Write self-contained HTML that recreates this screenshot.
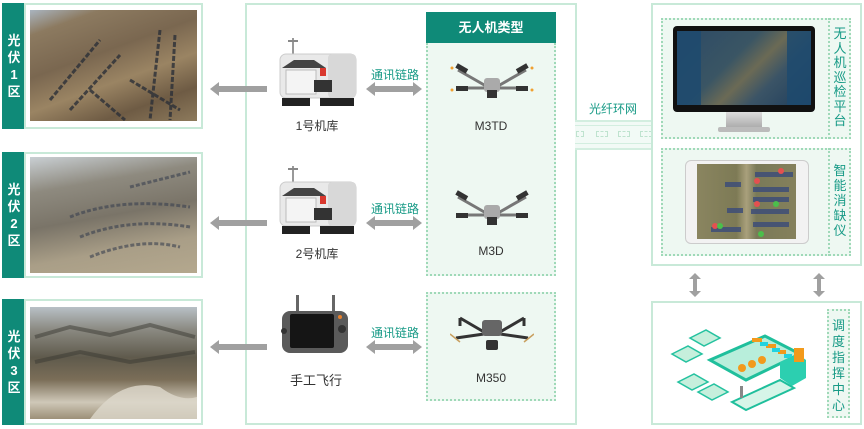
<!DOCTYPE html>
<html><head><meta charset="utf-8"><style>
*{margin:0;padding:0;box-sizing:border-box}
body{width:864px;height:429px;background:#fff;position:relative;overflow:hidden;font-family:"Liberation Sans","Noto Sans CJK SC",sans-serif}
.a{position:absolute}
.lab{background:#0f8a78;color:#fff;font-weight:bold;font-size:13px;line-height:17px;text-align:center;display:flex;align-items:center;justify-content:center}
.box{border:2px solid #c8e9d8}
.dot{border:2px dotted #9fd9b8;background:#eef8f2}
.vt{color:#179a86;font-size:13px;line-height:14.5px;text-align:center}
.t{font-size:12px;color:#333;text-align:center}
.g{color:#179a86;font-size:12px}
</style></head><body>

<!-- regions -->
<div class="a lab" style="left:2px;top:3px;width:24px;height:126px">光<br>伏<br>1<br>区</div>
<div class="a box" style="left:24px;top:3px;width:179px;height:126px"></div>
<div class="a" style="left:30px;top:10px;width:167px;height:111px;background:linear-gradient(160deg,#a9b4bf 0%,#8c7a60 15%,#7a6750 40%,#9a8463 60%,#6e5b44 80%,#8d7a5c 100%)"></div>
<svg class="a" style="left:30px;top:10px" width="167" height="111"><g stroke="#2c3038" stroke-width="3" stroke-dasharray="5 2" fill="none" opacity=".8"><path d="M20 90 L70 30"/><path d="M40 100 L90 45"/><path d="M130 20 L120 110"/><path d="M145 25 L140 110"/><path d="M100 70 L150 100"/><path d="M60 80 L95 110"/></g></svg>

<div class="a lab" style="left:2px;top:152px;width:24px;height:126px">光<br>伏<br>2<br>区</div>
<div class="a box" style="left:24px;top:152px;width:179px;height:126px"></div>
<div class="a" style="left:30px;top:157px;width:167px;height:116px;background:linear-gradient(170deg,#c9cfd3 0%,#8e8a7f 25%,#7a7468 50%,#a99e87 75%,#b4a88e 100%)"></div>
<svg class="a" style="left:30px;top:157px" width="167" height="116"><g stroke="#3a4150" stroke-width="3" stroke-dasharray="4 2" fill="none" opacity=".6"><path d="M40 60 Q90 40 160 50"/><path d="M50 80 Q100 60 160 70"/><path d="M60 100 Q110 80 150 90"/><path d="M100 30 L160 15"/></g></svg>

<div class="a lab" style="left:2px;top:299px;width:24px;height:126px">光<br>伏<br>3<br>区</div>
<div class="a box" style="left:24px;top:299px;width:179px;height:126px"></div>
<div class="a" style="left:30px;top:307px;width:167px;height:112px;background:linear-gradient(180deg,#b8c0c6 0%,#8b8a82 20%,#5f5a4c 45%,#7b6e58 65%,#cfc8b8 85%,#9c9078 100%)"></div>
<svg class="a" style="left:30px;top:307px" width="167" height="112"><g stroke="#3b3a33" stroke-width="4" fill="none" opacity=".5"><path d="M5 30 L40 20 L80 28 L120 18 L165 30"/><path d="M5 55 L50 45 L100 55 L165 45"/></g><path d="M60 112 Q90 70 130 80 Q150 95 167 90 L167 112Z" fill="#ddd8cc" opacity=".8"/></svg>

<!-- middle box -->
<div class="a box" style="left:245px;top:3px;width:332px;height:422px"></div>

<!-- left arrows -->
<svg class="a" style="left:205px;top:80px" width="65" height="280"><g fill="#a0a0a0">
<path d="M5 9 L14 2 L14 6 L62 6 L62 12 L14 12 L14 16Z"/>
<path d="M5 143 L14 136 L14 140 L62 140 L62 146 L14 146 L14 150Z"/>
<path d="M5 267 L14 260 L14 264 L62 264 L62 270 L14 270 L14 274Z"/></g></svg>
<!-- double arrows -->
<svg class="a" style="left:363px;top:80px" width="62" height="280"><g fill="#a0a0a0">
<path d="M3 9 L12 2 L12 6 L50 6 L50 2 L59 9 L50 16 L50 12 L12 12 L12 16Z"/>
<path d="M3 143 L12 136 L12 140 L50 140 L50 136 L59 143 L50 150 L50 146 L12 146 L12 150Z"/>
<path d="M3 267 L12 260 L12 264 L50 264 L50 260 L59 267 L50 274 L50 270 L12 270 L12 274Z"/></g></svg>
<div class="a g" style="left:371px;top:66px">通讯链路</div>
<div class="a g" style="left:371px;top:200px">通讯链路</div>
<div class="a g" style="left:371px;top:324px">通讯链路</div>

<!-- hangars -->
<svg class="a" style="left:276px;top:38px" width="84" height="72"><rect x="16" y="0" width="2" height="16" fill="#999"/><rect x="12" y="2" width="10" height="2" fill="#888"/>
<rect x="4" y="16" width="76" height="44" rx="6" fill="#e9e9e9" stroke="#ccc"/><rect x="52" y="16" width="28" height="44" rx="4" fill="#d8d8d8"/>
<path d="M6 30 L18 22 L38 22 L50 30Z" fill="#444"/><rect x="10" y="32" width="30" height="24" fill="#f4f4f4" stroke="#bbb"/><rect x="38" y="42" width="18" height="12" fill="#333"/><rect x="44" y="30" width="6" height="8" fill="#d9382e"/>
<rect x="6" y="60" width="28" height="8" fill="#222"/><rect x="44" y="60" width="34" height="8" fill="#222"/></svg>
<div class="a t" style="left:275px;top:117px;width:84px">1号机库</div>
<svg class="a" style="left:276px;top:166px" width="84" height="72"><rect x="16" y="0" width="2" height="16" fill="#999"/><rect x="12" y="2" width="10" height="2" fill="#888"/>
<rect x="4" y="16" width="76" height="44" rx="6" fill="#e9e9e9" stroke="#ccc"/><rect x="52" y="16" width="28" height="44" rx="4" fill="#d8d8d8"/>
<path d="M6 30 L18 22 L38 22 L50 30Z" fill="#444"/><rect x="10" y="32" width="30" height="24" fill="#f4f4f4" stroke="#bbb"/><rect x="38" y="42" width="18" height="12" fill="#333"/><rect x="44" y="30" width="6" height="8" fill="#d9382e"/>
<rect x="6" y="60" width="28" height="8" fill="#222"/><rect x="44" y="60" width="34" height="8" fill="#222"/></svg>
<div class="a t" style="left:275px;top:245px;width:84px">2号机库</div>
<!-- controller -->
<svg class="a" style="left:280px;top:295px" width="72" height="60"><rect x="16" y="0" width="3" height="18" fill="#666"/><rect x="52" y="0" width="3" height="18" fill="#666"/>
<rect x="2" y="16" width="66" height="42" rx="8" fill="#5a5a5a"/><rect x="10" y="19" width="44" height="34" rx="2" fill="#151515"/><circle cx="62" cy="34" r="4" fill="#333"/><circle cx="4" cy="36" r="3" fill="#333"/><circle cx="60" cy="22" r="2" fill="#e8802a"/></svg>
<div class="a t" style="left:273px;top:370px;width:86px;font-size:13px">手工飞行</div>

<!-- drone type -->
<div class="a" style="left:426px;top:12px;width:130px;height:32px;background:#0f8a78;color:#fff;font-weight:bold;font-size:13px;text-align:center;line-height:32px">无人机类型</div>
<div class="a dot" style="left:426px;top:43px;width:130px;height:233px;border-top:none"></div>
<div class="a dot" style="left:426px;top:292px;width:130px;height:109px"></div>
<svg class="a" style="left:450px;top:58px" width="84" height="42"><g stroke="#777" stroke-width="3" fill="none"><path d="M8 12 L36 28"/><path d="M76 12 L48 28"/><path d="M6 30 L36 30"/><path d="M78 30 L48 30"/></g>
<g fill="#333"><rect x="6" y="8" width="12" height="5" transform="rotate(30 12 10)"/><rect x="66" y="8" width="12" height="5" transform="rotate(-30 72 10)"/><rect x="6" y="28" width="12" height="5"/><rect x="66" y="28" width="12" height="5"/></g>
<rect x="34" y="20" width="16" height="14" rx="3" fill="#aaa"/><rect x="37" y="32" width="10" height="8" fill="#333"/><g fill="#f0a030"><circle cx="2" cy="10" r="1.5"/><circle cx="82" cy="10" r="1.5"/><circle cx="2" cy="32" r="1.5"/><circle cx="82" cy="32" r="1.5"/></g></svg>
<div class="a t" style="left:426px;top:119px;width:130px">M3TD</div>
<svg class="a" style="left:450px;top:185px" width="84" height="42"><g stroke="#777" stroke-width="3" fill="none"><path d="M8 12 L36 28"/><path d="M76 12 L48 28"/><path d="M6 30 L36 30"/><path d="M78 30 L48 30"/></g>
<g fill="#333"><rect x="6" y="8" width="12" height="5" transform="rotate(30 12 10)"/><rect x="66" y="8" width="12" height="5" transform="rotate(-30 72 10)"/><rect x="6" y="28" width="12" height="5"/><rect x="66" y="28" width="12" height="5"/></g>
<rect x="34" y="20" width="16" height="14" rx="3" fill="#aaa"/><rect x="37" y="32" width="10" height="8" fill="#333"/></svg>
<div class="a t" style="left:426px;top:244px;width:130px">M3D</div>
<svg class="a" style="left:450px;top:312px" width="84" height="46"><g stroke="#333" stroke-width="3" fill="none"><path d="M10 6 L34 20"/><path d="M74 6 L50 20"/><path d="M6 26 L34 22"/><path d="M78 26 L50 22"/><path d="M10 6 L10 14"/><path d="M74 6 L74 14"/></g>
<rect x="32" y="8" width="20" height="16" rx="3" fill="#666"/><rect x="36" y="28" width="12" height="10" rx="2" fill="#333"/><g stroke="#c9a060" stroke-width="1.5"><path d="M0 22 L10 30"/><path d="M84 22 L74 30"/></g></svg>
<div class="a t" style="left:426px;top:371px;width:130px">M350</div>

<!-- fiber -->
<div class="a g" style="left:589px;top:100px;font-size:12px">光纤环网</div>
<div class="a" style="left:575px;top:120px;width:78px;height:30px;background:#f2faf6;border-top:2px solid #d3eee0;border-bottom:2px solid #d3eee0"></div>
<div class="a" style="left:575px;top:125px;width:78px;height:1px;background:#d3eee0"></div>
<div class="a" style="left:575px;top:143px;width:78px;height:1px;background:#d3eee0"></div>
<div class="a" style="left:576px;top:131px;width:8px;height:6px;border:1px dashed #bfe3cf"></div>
<div class="a" style="left:596px;top:131px;width:12px;height:6px;border:1px dashed #bfe3cf"></div>
<div class="a" style="left:618px;top:131px;width:12px;height:6px;border:1px dashed #bfe3cf"></div>
<div class="a" style="left:640px;top:131px;width:12px;height:6px;border:1px dashed #bfe3cf"></div>

<!-- right top -->
<div class="a box" style="left:651px;top:3px;width:211px;height:263px"></div>
<div class="a dot" style="left:661px;top:18px;width:190px;height:121px"></div>
<div class="a" style="left:828px;top:18px;width:2px;height:121px;border-left:2px dotted #9fd9b8"></div>
<div class="a vt" style="left:830px;top:27px;width:20px">无<br>人<br>机<br>巡<br>检<br>平<br>台</div>
<div class="a" style="left:673px;top:26px;width:142px;height:86px;background:#111;border-radius:4px"></div>
<div class="a" style="left:677px;top:31px;width:134px;height:74px;background:linear-gradient(135deg,#2c4a66,#3a5564 40%,#6b6a55 55%,#3b5466 70%,#1e3d5c)"></div>
<div class="a" style="left:677px;top:31px;width:24px;height:74px;background:#1d4a6e;opacity:.85"></div>
<div class="a" style="left:787px;top:31px;width:24px;height:74px;background:#1d4a6e;opacity:.85"></div>
<div class="a" style="left:726px;top:112px;width:36px;height:16px;background:linear-gradient(#ddd,#aaa)"></div>
<div class="a" style="left:718px;top:127px;width:52px;height:5px;background:#bbb;border-radius:2px"></div>

<div class="a dot" style="left:661px;top:148px;width:190px;height:108px"></div>
<div class="a" style="left:828px;top:148px;width:2px;height:108px;border-left:2px dotted #9fd9b8"></div>
<div class="a vt" style="left:830px;top:163px;width:20px;line-height:15px">智<br>能<br>消<br>缺<br>仪</div>
<div class="a" style="left:685px;top:160px;width:124px;height:84px;background:#f2f2f2;border:1px solid #ccc;border-radius:6px"></div>
<div class="a" style="left:697px;top:164px;width:99px;height:75px;background:linear-gradient(90deg,#8a8560,#7d7a55 40%,#a9a07c 50%,#7a7a58 60%,#85805c)"></div>
<svg class="a" style="left:697px;top:164px" width="99" height="75"><g fill="#3e4e78" opacity=".85"><rect x="58" y="8" width="38" height="5"/><rect x="28" y="18" width="16" height="5"/><rect x="56" y="23" width="36" height="5"/><rect x="56" y="33" width="36" height="5"/><rect x="30" y="44" width="16" height="5"/><rect x="54" y="45" width="38" height="5"/><rect x="56" y="58" width="36" height="5"/><rect x="14" y="63" width="30" height="5"/></g>
<g><circle cx="84" cy="7" r="3" fill="#e45050"/><circle cx="60" cy="17" r="3" fill="#e45050"/><circle cx="60" cy="40" r="3" fill="#e45050"/><circle cx="79" cy="40" r="3" fill="#4bbf4b"/><circle cx="18" cy="62" r="3" fill="#e45050"/><circle cx="23" cy="62" r="3" fill="#4bbf4b"/><circle cx="64" cy="70" r="3" fill="#4bbf4b"/></g></svg>

<!-- vertical arrows -->
<svg class="a" style="left:686px;top:272px" width="150" height="26"><g fill="#a0a0a0"><path d="M9 1 L15 7 L11 7 L11 19 L15 19 L9 25 L3 19 L7 19 L7 7 L3 7Z"/><path d="M133 1 L139 7 L135 7 L135 19 L139 19 L133 25 L127 19 L131 19 L131 7 L127 7Z"/></g></svg>

<!-- bottom right -->
<div class="a box" style="left:651px;top:301px;width:211px;height:124px"></div>
<div class="a dot" style="left:827px;top:309px;width:23px;height:109px"></div>
<div class="a vt" style="left:828px;top:318px;width:21px;line-height:16px">调<br>度<br>指<br>挥<br>中<br>心</div>
<svg class="a" style="left:670px;top:310px" width="150" height="110">
<g fill="#c6efdc" stroke="#25c2a0" stroke-width="1.5"><path d="M20 28 L36 20 L50 28 L34 36Z"/><path d="M2 44 L18 36 L32 44 L16 52Z"/><path d="M8 72 L24 64 L38 72 L22 80Z"/><path d="M28 82 L44 74 L58 82 L42 90Z"/></g>
<path d="M40 50 L95 26 L130 44 L76 70Z" fill="#b8eedb" stroke="#1fbf9c" stroke-width="3"/>
<g fill="#f29a1c"><rect x="82" y="28" width="10" height="4"/><rect x="96" y="34" width="10" height="4"/><rect x="108" y="40" width="8" height="4"/></g>
<g fill="#22d3e0"><rect x="90" y="32" width="8" height="4"/><rect x="102" y="38" width="8" height="4"/><rect x="114" y="44" width="8" height="4"/></g>
<circle cx="72" cy="58" r="4" fill="#f29a1c"/><circle cx="82" cy="54" r="4" fill="#f29a1c"/><circle cx="92" cy="50" r="4" fill="#f29a1c"/>
<path d="M110 52 L128 44 L136 50 L136 68 L122 76 L110 68Z" fill="#2ccfb0"/><rect x="124" y="38" width="10" height="14" fill="#f29a1c"/>
<path d="M62 92 L110 70 L124 78 L76 100Z" fill="#d6f5e8" stroke="#1fbf9c" stroke-width="2"/><rect x="70" y="76" width="3" height="12" fill="#888"/></svg>
</body></html>
